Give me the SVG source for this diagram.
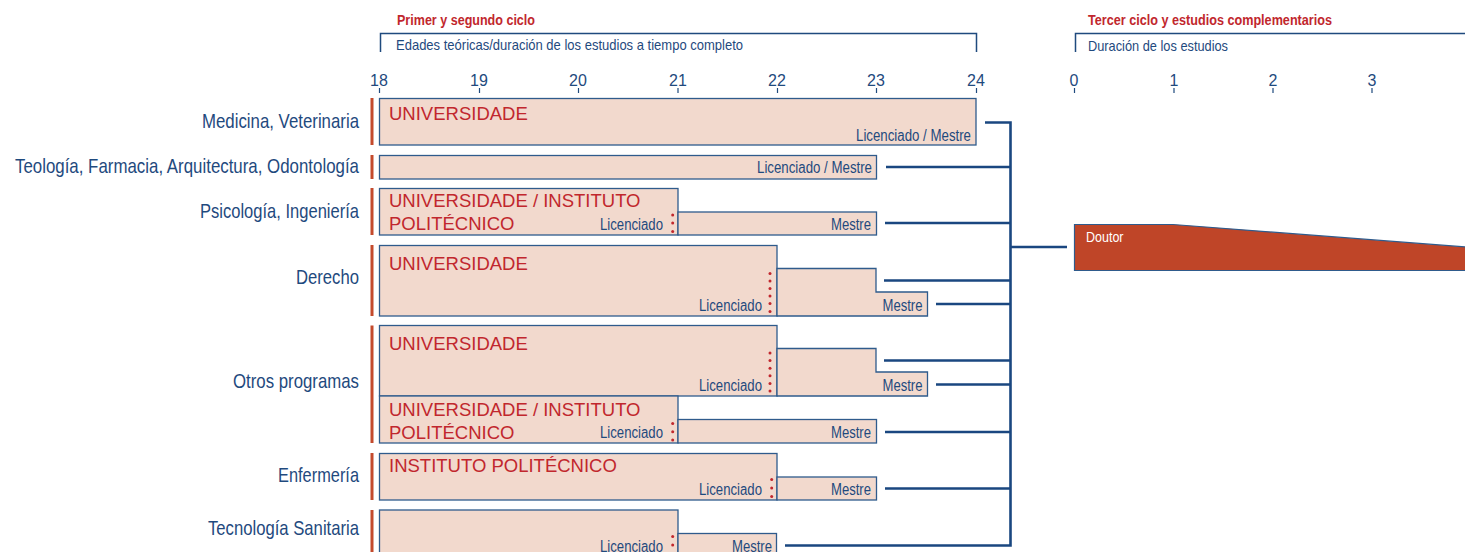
<svg xmlns="http://www.w3.org/2000/svg" width="1465" height="552" viewBox="0 0 1465 552">
<defs>
<style>
.bg{fill:#ffffff}
.box{fill:#f2d9cd;stroke:#2f5b8c;stroke-width:1.3}
.bar{fill:#c44a2c}
.lbl{font-family:"Liberation Sans",Arial,sans-serif;font-size:21px;fill:#1f4a7e;text-anchor:end}
.inst{font-family:"Liberation Sans",Arial,sans-serif;font-size:18.5px;fill:#c1272d}
.deg{font-family:"Liberation Sans",Arial,sans-serif;font-size:16px;fill:#1f4a7e;text-anchor:end}
.title{font-family:"Liberation Sans",Arial,sans-serif;font-size:14.5px;font-weight:bold;fill:#c1272d}
.sub{font-family:"Liberation Sans",Arial,sans-serif;font-size:15px;fill:#1f4a7e}
.num{font-family:"Liberation Sans",Arial,sans-serif;font-size:16px;fill:#1f4a7e;text-anchor:middle}
.tick{stroke:#1f4a7e;stroke-width:1.2;fill:none}
.brk{stroke:#1f4a7e;stroke-width:1.5;fill:none}
.conn{stroke:#1a4780;stroke-width:2.6;fill:none}
.dot{fill:#c1272d}
.doc{fill:#bf4528;stroke:#2f5b8c;stroke-width:1.2}
.doct{font-family:"Liberation Sans",Arial,sans-serif;font-size:15px;fill:#ffffff}
</style>
</defs>
<rect class="bg" x="0" y="0" width="1465" height="552"/>

<g id="header-left">
<text class="title" x="397" y="25" textLength="138" lengthAdjust="spacingAndGlyphs">Primer y segundo ciclo</text>
<path class="brk" d="M380.5 52 V33.5 H976.5 V52"/>
<text class="sub" x="396" y="50" textLength="347" lengthAdjust="spacingAndGlyphs">Edades teóricas/duración de los estudios a tiempo completo</text>
<g id="axis-left">
<text class="num" x="379" y="86">18</text>
<text class="num" x="479" y="86">19</text>
<text class="num" x="578" y="86">20</text>
<text class="num" x="678" y="86">21</text>
<text class="num" x="777" y="86">22</text>
<text class="num" x="876" y="86">23</text>
<text class="num" x="976" y="86">24</text>
<path class="tick" d="M379.5 88 V93 M479.5 88 V93 M578.5 88 V93 M678 88 V93 M777.5 88 V93 M876.5 88 V93 M976.5 88 V93"/>
</g>
</g>

<g id="header-right">
<text class="title" x="1088" y="25" textLength="244" lengthAdjust="spacingAndGlyphs">Tercer ciclo y estudios complementarios</text>
<path class="brk" d="M1075.5 52 V33.5 H1465"/>
<text class="sub" x="1088" y="51" textLength="140" lengthAdjust="spacingAndGlyphs">Duración de los estudios</text>
<g id="axis-right">
<text class="num" x="1074" y="86">0</text>
<text class="num" x="1174" y="86">1</text>
<text class="num" x="1273" y="86">2</text>
<text class="num" x="1372" y="86">3</text>
<path class="tick" d="M1074.5 88 V93 M1174 88 V93 M1273 88 V93 M1372 88 V93"/>
</g>
</g>

<g id="row-medicina">
<text class="lbl" x="359" y="128" textLength="157" lengthAdjust="spacingAndGlyphs">Medicina, Veterinaria</text>
<rect class="bar" x="370.5" y="98" width="3" height="47"/>
<rect class="box" x="379.5" y="98.5" width="596.5" height="46.5"/>
<text class="inst" x="389" y="120">UNIVERSIDADE</text>
<text class="deg" x="971" y="140.5" textLength="115" lengthAdjust="spacingAndGlyphs">Licenciado / Mestre</text>
</g>

<g id="row-teologia">
<text class="lbl" x="359" y="173" textLength="344" lengthAdjust="spacingAndGlyphs">Teología, Farmacia, Arquitectura, Odontología</text>
<rect class="bar" x="370.5" y="155" width="3" height="24"/>
<rect class="box" x="379.5" y="155.5" width="497" height="23.5"/>
<text class="deg" x="872" y="173" textLength="115" lengthAdjust="spacingAndGlyphs">Licenciado / Mestre</text>
</g>

<g id="row-psicologia">
<text class="lbl" x="359" y="218" textLength="159" lengthAdjust="spacingAndGlyphs">Psicología, Ingeniería</text>
<rect class="bar" x="370.5" y="188" width="3" height="47"/>
<rect class="box" x="379.5" y="188.5" width="298.5" height="46.5"/>
<rect class="box" x="678" y="212" width="198.5" height="23"/>
<text class="inst" x="389" y="206.5">UNIVERSIDADE / INSTITUTO</text>
<text class="inst" x="389" y="229.5">POLITÉCNICO</text>
<text class="deg" x="663" y="229.5" textLength="63" lengthAdjust="spacingAndGlyphs">Licenciado</text>
<text class="deg" x="871" y="229.5" textLength="40" lengthAdjust="spacingAndGlyphs">Mestre</text>
<circle class="dot" cx="672.7" cy="215" r="1.5"/>
<circle class="dot" cx="672.7" cy="223" r="1.5"/>
<circle class="dot" cx="672.7" cy="231.5" r="1.5"/>
</g>

<g id="row-derecho">
<text class="lbl" x="359" y="284" textLength="63" lengthAdjust="spacingAndGlyphs">Derecho</text>
<rect class="bar" x="370.5" y="245" width="3" height="71"/>
<rect class="box" x="379.5" y="245.5" width="397.5" height="70.5"/>
<path class="box" d="M777 268.5 H876 V292 H927.5 V316 H777 Z"/>
<text class="inst" x="389" y="269.5">UNIVERSIDADE</text>
<text class="deg" x="762" y="310.5" textLength="63" lengthAdjust="spacingAndGlyphs">Licenciado</text>
<text class="deg" x="922.5" y="310.5" textLength="40" lengthAdjust="spacingAndGlyphs">Mestre</text>
<circle class="dot" cx="770" cy="273.5" r="1.5"/>
<circle class="dot" cx="770" cy="281" r="1.5"/>
<circle class="dot" cx="770" cy="288.5" r="1.5"/>
<circle class="dot" cx="770" cy="296" r="1.5"/>
<circle class="dot" cx="770" cy="303.5" r="1.5"/>
<circle class="dot" cx="770" cy="311.5" r="1.5"/>
</g>

<g id="row-otros">
<text class="lbl" x="359" y="388" textLength="126" lengthAdjust="spacingAndGlyphs">Otros programas</text>
<rect class="bar" x="370.5" y="325.5" width="3" height="117.5"/>
<rect class="box" x="379.5" y="325.5" width="397.5" height="70.5"/>
<path class="box" d="M777 348.5 H876 V372 H927.5 V396 H777 Z"/>
<text class="inst" x="389" y="349.5">UNIVERSIDADE</text>
<text class="deg" x="762" y="390.5" textLength="63" lengthAdjust="spacingAndGlyphs">Licenciado</text>
<text class="deg" x="922.5" y="390.5" textLength="40" lengthAdjust="spacingAndGlyphs">Mestre</text>
<circle class="dot" cx="770" cy="353" r="1.5"/>
<circle class="dot" cx="770" cy="360.6" r="1.5"/>
<circle class="dot" cx="770" cy="368.2" r="1.5"/>
<circle class="dot" cx="770" cy="375.8" r="1.5"/>
<circle class="dot" cx="770" cy="383.4" r="1.5"/>
<circle class="dot" cx="770" cy="391" r="1.5"/>
<rect class="box" x="379.5" y="396" width="298.5" height="47"/>
<rect class="box" x="678" y="419.5" width="198.5" height="23.5"/>
<text class="inst" x="389" y="415.5">UNIVERSIDADE / INSTITUTO</text>
<text class="inst" x="389" y="438.5">POLITÉCNICO</text>
<text class="deg" x="663" y="438" textLength="63" lengthAdjust="spacingAndGlyphs">Licenciado</text>
<text class="deg" x="871" y="438" textLength="40" lengthAdjust="spacingAndGlyphs">Mestre</text>
<circle class="dot" cx="672.7" cy="423.5" r="1.5"/>
<circle class="dot" cx="672.7" cy="431.8" r="1.5"/>
<circle class="dot" cx="672.7" cy="440" r="1.5"/>
</g>

<g id="row-enfermeria">
<text class="lbl" x="359" y="481.5" textLength="81" lengthAdjust="spacingAndGlyphs">Enfermería</text>
<rect class="bar" x="370.5" y="453" width="3" height="47"/>
<rect class="box" x="379.5" y="453.5" width="397.5" height="46.5"/>
<rect class="box" x="777" y="477" width="99.5" height="23"/>
<text class="inst" x="389" y="472">INSTITUTO POLITÉCNICO</text>
<text class="deg" x="762" y="495" textLength="63" lengthAdjust="spacingAndGlyphs">Licenciado</text>
<text class="deg" x="871" y="495" textLength="40" lengthAdjust="spacingAndGlyphs">Mestre</text>
<circle class="dot" cx="771.7" cy="479.5" r="1.5"/>
<circle class="dot" cx="771.7" cy="488" r="1.5"/>
<circle class="dot" cx="771.7" cy="496.5" r="1.5"/>
</g>

<g id="row-tecnologia">
<text class="lbl" x="359" y="535" textLength="151" lengthAdjust="spacingAndGlyphs">Tecnología Sanitaria</text>
<rect class="bar" x="370.5" y="510" width="3" height="50"/>
<rect class="box" x="379.5" y="510" width="298.5" height="50"/>
<rect class="box" x="678" y="533.5" width="98.5" height="30"/>
<text class="deg" x="663" y="551.5" textLength="63" lengthAdjust="spacingAndGlyphs">Licenciado</text>
<text class="deg" x="772" y="551.5" textLength="40" lengthAdjust="spacingAndGlyphs">Mestre</text>
<circle class="dot" cx="672.7" cy="536.5" r="1.5"/>
<circle class="dot" cx="672.7" cy="545" r="1.5"/>
</g>

<g id="doutor">
<path class="doc" d="M1074.5 224.5 H1173 L1466 247 V270.5 H1074.5 Z"/>
<text class="doct" x="1086" y="241.5" textLength="37.5" lengthAdjust="spacingAndGlyphs">Doutor</text>
</g>

<g id="connectors">
<path class="conn" d="M985 122.5 H1010.5 V545.5 H785"/>
<path class="conn" d="M886 167 H1010.5 M885 223 H1010.5 M884 280.5 H1010.5 M936 304 H1010.5 M884 360.5 H1010.5 M936 384.5 H1010.5 M885 432 H1010.5 M885 488.5 H1010.5 M1010.5 247 H1067"/>
</g>
</svg>
